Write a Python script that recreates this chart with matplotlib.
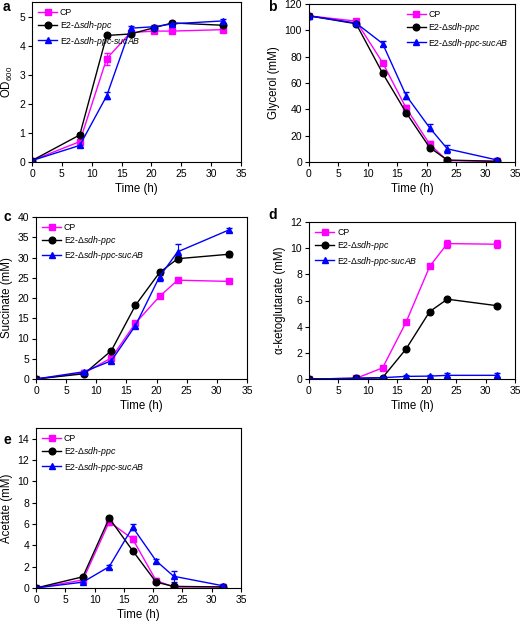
import matplotlib
matplotlib.use("Agg")
import matplotlib.pyplot as plt

plt.rcParams['font.family'] = ['Liberation Sans', 'DejaVu Sans']
plt.rcParams['mathtext.fontset'] = 'custom'
plt.rcParams['mathtext.rm'] = 'Liberation Sans'
plt.rcParams['mathtext.it'] = 'Liberation Sans:italic'

time = [0, 8, 12.5, 16.5, 20.5, 23.5, 32]
labels = ["CP", r"E2-$\Delta\mathit{sdh}$-$\mathit{ppc}$",
          r"E2-$\Delta\mathit{sdh}$-$\mathit{ppc}$-$\mathit{sucAB}$"]

od_cp = [0.05, 0.70, 3.55, 4.45, 4.50, 4.50, 4.55]
od_ppc = [0.05, 0.93, 4.35, 4.40, 4.62, 4.78, 4.70]
od_suc = [0.05, 0.57, 2.27, 4.60, 4.65, 4.75, 4.85]
od_err = [[0.02, 0.05, 0.2, 0.08, 0.05, 0.05, 0.05],
          [0.02, 0.05, 0.05, 0.08, 0.05, 0.05, 0.05],
          [0.02, 0.06, 0.12, 0.08, 0.06, 0.06, 0.06]]

gly_cp = [111, 107, 75.5, 41, 13.5, 1.0, 0.5]
gly_ppc = [111, 105, 67.5, 37.5, 11, 1.5, 0.5]
gly_suc = [111, 105.5, 90, 50.5, 26, 10, 1.5]
gly_err = [[1, 1, 1.5, 2, 2.5, 1, 0.5],
           [1, 1, 1.5, 1.5, 1.5, 1, 0.5],
           [1, 1.5, 2, 3, 2.5, 3, 1.5]]

suc_cp = [0, 1.5, 5.2, 13.8, 20.4, 24.4, 24.1]
suc_ppc = [0, 1.3, 7.0, 18.2, 26.3, 29.7, 30.8]
suc_suc = [0, 1.8, 4.5, 13.2, 25.3, 31.4, 36.8]
suc_err = [[0.1, 0.3, 0.5, 0.5, 0.4, 0.5, 0.5],
           [0.1, 0.3, 0.4, 0.4, 0.5, 0.6, 0.6],
           [0.1, 0.4, 0.6, 0.6, 1.0, 2.0, 0.6]]

akg_cp = [0, 0.05, 0.85, 4.35, 8.60, 10.35, 10.30]
akg_ppc = [0, 0.05, 0.10, 2.30, 5.15, 6.10, 5.60]
akg_suc = [0, 0.05, 0.10, 0.20, 0.22, 0.28, 0.28]
akg_err = [[0.02, 0.05, 0.1, 0.15, 0.15, 0.3, 0.3],
           [0.02, 0.05, 0.05, 0.1, 0.1, 0.1, 0.1],
           [0.02, 0.05, 0.05, 0.1, 0.1, 0.15, 0.15]]

ace_cp = [0, 0.75, 6.20, 4.60, 0.70, 0.10, 0.10]
ace_ppc = [0, 1.05, 6.55, 3.50, 0.55, 0.15, 0.10]
ace_suc = [0, 0.55, 2.00, 5.70, 2.55, 1.10, 0.20]
ace_err = [[0.05, 0.1, 0.3, 0.3, 0.2, 0.05, 0.05],
           [0.05, 0.1, 0.2, 0.1, 0.1, 0.05, 0.05],
           [0.05, 0.1, 0.2, 0.3, 0.2, 0.5, 0.2]]

colors = ['#FF00FF', '#000000', '#0000FF']
markers = ['s', 'o', '^']

W, H = 520, 621
fig = plt.figure(figsize=(W / 100, H / 100), dpi=100)


def add_ax(l, t, r, b):
    return fig.add_axes([l / W, 1 - b / H, (r - l) / W, (b - t) / H])


panels = [
    ("a", (32, 2, 241, 162), [od_cp, od_ppc, od_suc], od_err, r"OD$_{600}$", (0, 5.5), range(0, 6, 1), 'upper left', (3, 7)),
    ("b", (309, 4, 515, 162), [gly_cp, gly_ppc, gly_suc], gly_err, "Glycerol (mM)", (0, 120), range(0, 121, 20), 'upper right', (268, 7)),
    ("c", (36, 217, 247, 379), [suc_cp, suc_ppc, suc_suc], suc_err, "Succinate (mM)", (0, 40), range(0, 41, 5), 'upper left', (4, 217)),
    ("d", (309, 222, 515, 379), [akg_cp, akg_ppc, akg_suc], akg_err, "α-ketoglutarate (mM)", (0, 12), range(0, 13, 2), 'upper left', (268, 215)),
    ("e", (36, 428, 241, 588), [ace_cp, ace_ppc, ace_suc], ace_err, "Acetate (mM)", (0, 15), range(0, 15, 2), 'upper left', (4, 440)),
]

for letter, box, series, errs, ylabel, ylim, yticks, loc, lpos in panels:
    ax = add_ax(*box)
    handles = []
    for vals, err, c, m, lab in zip(series, errs, colors, markers, labels):
        h = ax.errorbar(time, vals, yerr=err, color=c, marker=m, markersize=4.8,
                        linewidth=1.0, elinewidth=0.8, capsize=2, label=lab)
        handles.append(h[0])
    ax.set_xlim(0, 35)
    ax.set_xticks(range(0, 36, 5))
    ax.set_ylim(*ylim)
    ax.set_yticks(list(yticks))
    ax.tick_params(direction='out', length=3, width=0.8, labelsize=7.5, pad=2)
    for s in ax.spines.values():
        s.set_linewidth(0.8)
    ax.set_xlabel("Time (h)", fontsize=8.3, labelpad=3)
    ax.set_ylabel(ylabel, fontsize=8.3, labelpad=3)
    ax.legend(handles=handles, labels=labels, loc=loc, frameon=False, fontsize=6.3,
              handlelength=2.2, handletextpad=0.3, labelspacing=0.25, borderaxespad=0.3)
    fig.text(lpos[0] / W, 1 - lpos[1] / H, letter, fontsize=10, fontweight='bold',
             va='center', ha='left')

fig.savefig("out.png", dpi=100)
